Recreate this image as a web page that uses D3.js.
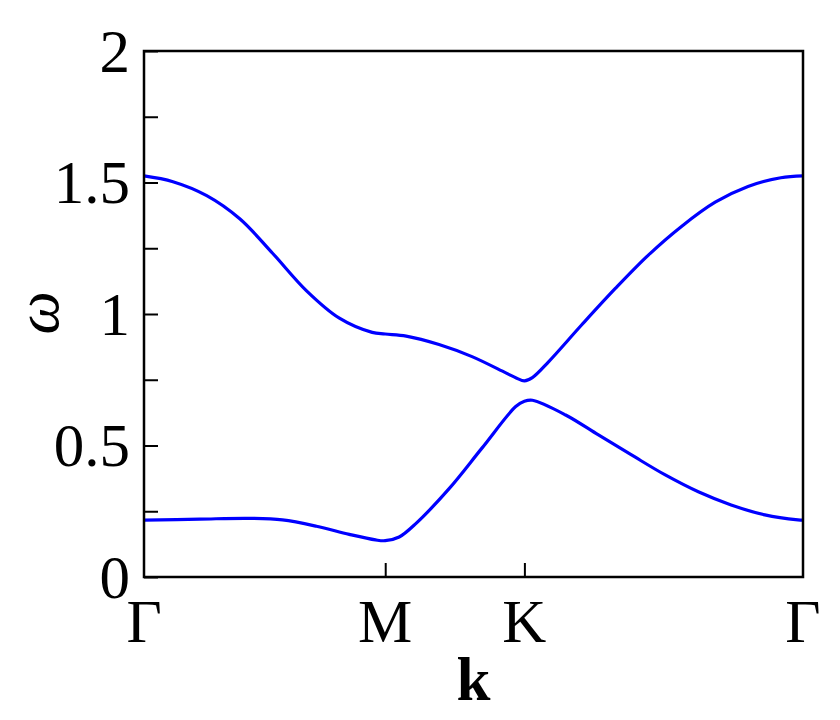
<!DOCTYPE html>
<html>
<head>
<meta charset="utf-8">
<script src="https://cdn.jsdelivr.net/npm/d3@7"></script>
<style>
  body { margin: 0; background: #fff; }
  svg text { font-family: 'Liberation Serif', 'Times New Roman', Times, serif; fill: #000; }
</style>
</head>
<body>
<svg id="chart" width="840" height="720"></svg>
<script>
// high-symmetry points along the path (path length units)
var kPoints = [0, 1, 1.577, 2.732];
var kLabels = ['Γ', 'M', 'K', 'Γ'];

var yTicks = [0, 0.5, 1, 1.5, 2];
var yTickLabels = ['0', '0.5', '1', '1.5', '2'];
var yMinorTicks = [0.25, 0.75, 1.25, 1.75];

// upper band
var upperK = [0, 0.120, 0.260, 0.397, 0.533, 0.674, 0.810, 0.946, 1.0, 1.087, 1.223, 1.360, 1.500, 1.545, 1.577, 1.610, 1.678, 1.814, 1.955, 2.091, 2.227, 2.368, 2.504, 2.640, 2.732];
var upperW = [1.525, 1.503, 1.450, 1.362, 1.231, 1.088, 0.984, 0.930, 0.924, 0.916, 0.884, 0.838, 0.776, 0.756, 0.746, 0.758, 0.819, 0.958, 1.098, 1.224, 1.332, 1.425, 1.485, 1.518, 1.525];

// lower band
var lowerK = [0, 0.231, 0.438, 0.574, 0.715, 0.851, 0.960, 1.0, 1.058, 1.128, 1.264, 1.401, 1.541, 1.577, 1.610, 1.748, 1.884, 2.021, 2.161, 2.298, 2.434, 2.574, 2.711, 2.732];
var lowerW = [0.216, 0.220, 0.223, 0.217, 0.193, 0.162, 0.141, 0.138, 0.152, 0.204, 0.335, 0.490, 0.648, 0.668, 0.672, 0.616, 0.540, 0.464, 0.388, 0.324, 0.274, 0.236, 0.217, 0.216];

var svg = d3.select('#chart');
var margin = {top: 51, right: 37, bottom: 143, left: 144};
var width = 840 - margin.left - margin.right,
    height = 720 - margin.top - margin.bottom;
var TICK = 14;
var FONT = "'Liberation Serif', 'Times New Roman', Times, serif";

var g = svg.append('g')
    .attr('transform', 'translate(' + margin.left + ',' + margin.top + ')');

var x = d3.scaleLinear().domain([0, kPoints[3]]).range([0, width]);
var y = d3.scaleLinear().domain([0, 2]).range([height, 0]);

var line = d3.line()
    .x(function(d) { return x(d[0]); })
    .y(function(d) { return y(d[1]); })
    .curve(d3.curveCatmullRom.alpha(0.5));

[[upperK, upperW], [lowerK, lowerW]].forEach(function(band) {
    var pts = band[0].map(function(k, i) { return [k, band[1][i]]; });
    g.append('path')
        .datum(pts)
        .attr('d', line)
        .attr('fill', 'none')
        .attr('stroke', '#0000ff')
        .attr('stroke-width', 3.2);
});

// y axis ticks (inward)
var yAxis = d3.axisRight(y)
    .tickValues(yTicks.concat(yMinorTicks))
    .tickSize(TICK)
    .tickFormat('');
g.append('g').call(yAxis)
    .call(function(s) { s.select('.domain').remove(); })
    .selectAll('line').attr('stroke', '#000').attr('stroke-width', 2);

g.selectAll('.ylab')
    .data(yTicks)
    .enter().append('text')
    .attr('class', 'ylab')
    .attr('x', -14)
    .attr('y', function(d) { return y(d); })
    .attr('dy', '0.34em')
    .attr('text-anchor', 'end')
    .attr('font-family', FONT)
    .attr('font-size', 61)
    .text(function(d, i) { return yTickLabels[i]; });

// x axis ticks (inward) at M and K
var xAxis = d3.axisTop(x)
    .tickValues(kPoints.slice(1, 3))
    .tickSize(TICK)
    .tickFormat('');
g.append('g')
    .attr('transform', 'translate(0,' + height + ')')
    .call(xAxis)
    .call(function(s) { s.select('.domain').remove(); })
    .selectAll('line').attr('stroke', '#000').attr('stroke-width', 2);

g.selectAll('.xlab')
    .data(kPoints)
    .enter().append('text')
    .attr('class', 'xlab')
    .attr('x', function(d) { return x(d); })
    .attr('y', height + 65)
    .attr('text-anchor', 'middle')
    .attr('font-family', FONT)
    .attr('font-size', 61)
    .text(function(d, i) { return kLabels[i]; });

// frame
g.append('rect')
    .attr('width', width)
    .attr('height', height)
    .attr('fill', 'none')
    .attr('stroke', '#000')
    .attr('stroke-width', 2.5);

// axis titles
svg.append('text')
    .attr('x', margin.left + width / 2)
    .attr('y', 700)
    .attr('text-anchor', 'middle')
    .attr('font-family', FONT)
    .attr('font-size', 61)
    .attr('font-weight', 'bold')
    .text('k');

svg.append('text')
    .attr('transform', 'translate(58,313) rotate(-90)')
    .attr('text-anchor', 'middle')
    .attr('font-family', FONT)
    .attr('font-size', 61)
    .attr('font-style', 'italic')
    .text('ω');
</script>
</body>
</html>
